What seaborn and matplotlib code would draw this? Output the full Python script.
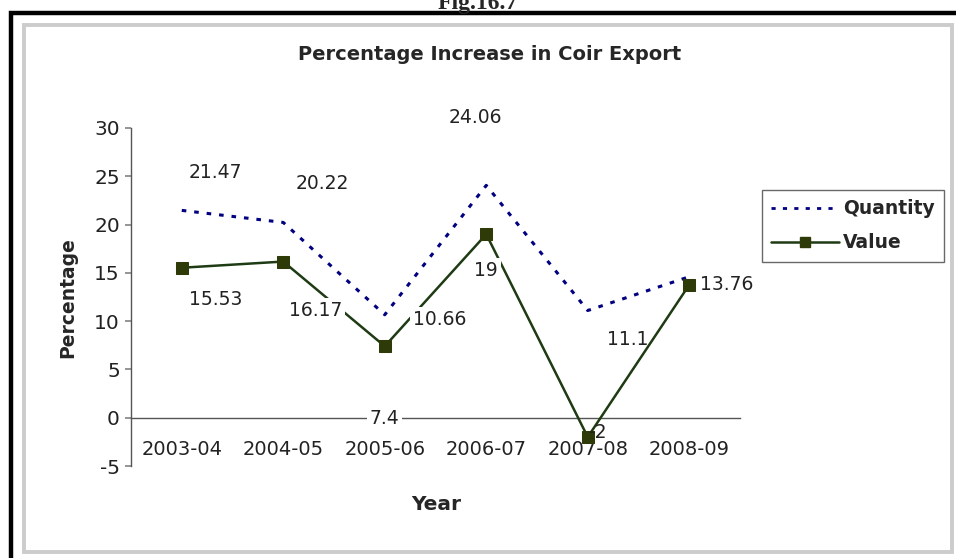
import matplotlib
matplotlib.use("Agg")
import matplotlib.pyplot as plt
import seaborn as sns
import pandas as pd
from matplotlib.patches import Rectangle
from matplotlib.lines import Line2D

years = ["2003-04", "2004-05", "2005-06", "2006-07", "2007-08", "2008-09"]
quantity = [21.47, 20.22, 10.66, 24.06, 11.1, 14.6]
value = [15.53, 16.17, 7.4, 19, -2, 13.76]
quantity_labels = ["21.47", "20.22", "10.66", "24.06", "11.1", None]
value_labels = ["15.53", "16.17", "7.4", "19", "-2", "13.76"]
yticks = [-5, 0, 5, 10, 15, 20, 25, 30]

sns.set_theme(style="white")
plt.rcParams['font.family'] = ['DejaVu Sans']

W, H = 956, 558
fig = plt.figure(figsize=(W / 100, H / 100), dpi=100)
fig.patch.set_facecolor("white")

# frames
fig.add_artist(Rectangle((11 / W, -0.05), 1.1, 1 - 13 / H + 0.05, transform=fig.transFigure,
                         fill=False, edgecolor="black", linewidth=3.2))
fig.add_artist(Rectangle((23.5 / W, 1 - 552 / H), (952 - 23.5) / W, (552 - 25) / H,
                         transform=fig.transFigure, fill=False, edgecolor="#cccccc", linewidth=2.8))
fig.text(478 / W, 1 - 9 / H, "Fig.16.7", ha="center", va="baseline", fontsize=17,
         fontweight="bold", family="Liberation Serif")

ax = fig.add_axes([131 / W, 1 - 466 / H, (740 - 131) / W, (466 - 128) / H])
ax.set_facecolor("none")

df = pd.DataFrame({"Year": years, "Quantity": quantity, "Value": value})
sns.lineplot(data=df, x="Year", y="Quantity", ax=ax, color="#000080", linewidth=2.2,
             linestyle=(0, (1.5, 2.6)), sort=False, zorder=2)
sns.lineplot(data=df, x="Year", y="Value", ax=ax, color="#1e3b14", linewidth=1.8,
             marker="s", markersize=8, markerfacecolor="#2e3a08", markeredgecolor="#2e3a08",
             sort=False, zorder=3)

ax.set_xlim(-0.5, 5.5)
ax.set_ylim(-5, 30)
ax.set_yticks(yticks)
ax.set_yticklabels([str(t) for t in yticks], fontsize=14.5, color="#222222")
ax.spines["top"].set_visible(False)
ax.spines["right"].set_visible(False)
ax.spines["bottom"].set_position(("data", 0))
for s in ("left", "bottom"):
    ax.spines[s].set_color("#555555")
    ax.spines[s].set_linewidth(1.0)
ax.set_xticks(range(len(years)))
ax.set_xticklabels(years, fontsize=14, color="#222222")
ax.set_xticks([i + 0.5 for i in range(len(years))], minor=True)
ax.tick_params(axis="x", which="major", length=0, pad=16)
ax.tick_params(axis="x", which="minor", length=4, direction="in", color="#888888")
ax.tick_params(axis="y", length=4, direction="out", color="#888888", left=True, pad=4)
ax.set_xlabel("")
ax.set_ylabel("")

fig.text(68 / W, 1 - 298 / H, "Percentage", rotation=90, ha="center", va="center",
         fontsize=13.5, fontweight="bold")
fig.text(436 / W, 1 - 505 / H, "Year", ha="center", va="center", fontsize=14.5, fontweight="bold")
fig.text(490 / W, 1 - 55 / H, "Percentage Increase in Coir Export", ha="center", va="center",
         fontsize=14, fontweight="bold")

q_off = [(34, 38), (39, 39), (55, -5), (-11, 68), (40, -29), None]
v_off = [(34, -32), (32, -49), (0, -72), (0, -36), (10, 5), (37, 0)]
bbox = dict(boxstyle="square,pad=0.15", facecolor="white", edgecolor="none")
for i, (lab, off) in enumerate(zip(quantity_labels, q_off)):
    if lab is None:
        continue
    ax.annotate(lab, (i, quantity[i]), xytext=off, textcoords="offset pixels",
                ha="center", va="center", fontsize=13.5, color="#222222",
                bbox=None if lab == "11.1" else bbox, zorder=5)
for i, (lab, off) in enumerate(zip(value_labels, v_off)):
    ax.annotate(lab, (i, value[i]), xytext=off, textcoords="offset pixels",
                ha="center", va="center", fontsize=13.5, color="#222222",
                bbox=None if lab == "-2" else bbox, zorder=5)

handles = [Line2D([], [], color="#000080", linewidth=2, linestyle=(0, (1.5, 2.6))),
           Line2D([], [], color="#1e3b14", linewidth=1.8, marker="s", markersize=7,
                  markerfacecolor="#2e3a08", markeredgecolor="#2e3a08")]
leg = fig.legend(handles, ["Quantity", "Value"], loc="upper left",
                 bbox_to_anchor=(762 / W, 1 - 190 / H), borderaxespad=0, frameon=True,
                 fancybox=False, handlelength=3.6, handletextpad=0.2, borderpad=0.5,
                 labelspacing=0.8, prop={"weight": "bold", "size": 13.5})
leg.get_frame().set_edgecolor("#444444")
leg.get_frame().set_linewidth(1.0)

fig.savefig("out.png", dpi=100, facecolor="white")
